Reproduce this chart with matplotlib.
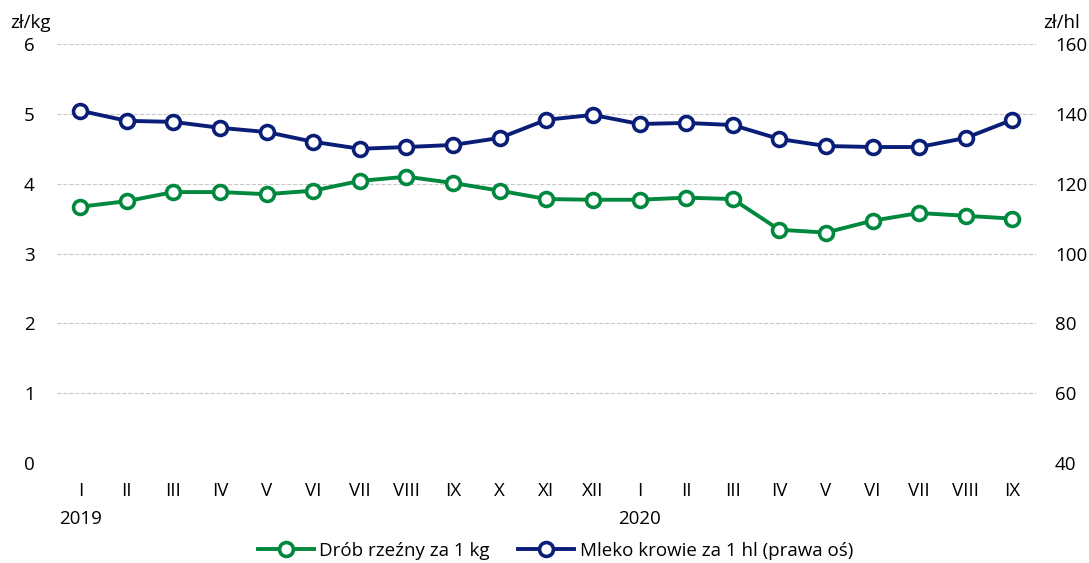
import matplotlib.pyplot as plt
import numpy as np

plt.rcParams['font.family'] = ['Open Sans', 'DejaVu Sans']

# dane
miesiace = ['I', 'II', 'III', 'IV', 'V', 'VI', 'VII', 'VIII', 'IX', 'X', 'XI', 'XII',
            'I', 'II', 'III', 'IV', 'V', 'VI', 'VII', 'VIII', 'IX']
drob = [3.67, 3.75, 3.88, 3.88, 3.85, 3.90, 4.04, 4.10, 4.01, 3.90, 3.78, 3.77,
        3.77, 3.80, 3.78, 3.34, 3.30, 3.47, 3.58, 3.54, 3.50]
mleko = [140.9, 138.0, 137.7, 136.0, 134.8, 132.0, 130.0, 130.5, 131.1, 133.1, 138.3, 139.7,
         137.1, 137.4, 136.8, 132.8, 130.8, 130.5, 130.5, 133.1, 138.3]

zielony = '#00883f'
granat = '#0a1e78'
fs = 13.5

x = np.arange(len(miesiace))

fig = plt.figure(figsize=(10.89, 5.63), dpi=100)
ax = fig.add_axes([0.0523, 0.1776, 0.8987, 0.7442])
ax2 = ax.twinx()

l1, = ax.plot(x, drob, color=zielony, lw=2.8, marker='o', ms=10, mfc='white',
              mec=zielony, mew=2.6, label='Drób rzeźny za 1 kg', zorder=3)
l2, = ax2.plot(x, mleko, color=granat, lw=2.8, marker='o', ms=10, mfc='white',
               mec=granat, mew=2.6, label='Mleko krowie za 1 hl (prawa oś)', zorder=3)

ax.set_xlim(-0.5, len(miesiace) - 0.5)
ax.set_ylim(0, 6)
ax2.set_ylim(40, 160)
ax.set_yticks(range(0, 7))
ax2.set_yticks(range(40, 161, 20))
ax.yaxis.grid(True, color='#c8c8c8', ls='--', lw=0.8)
ax.set_axisbelow(True)

for a in (ax, ax2):
    for s in a.spines.values():
        s.set_visible(False)
    a.tick_params(length=0, labelsize=fs)
ax.tick_params(axis='y', pad=16)
ax2.tick_params(axis='y', pad=14)

ax.set_xticks(x)
ax.set_xticklabels(miesiace)
ax.tick_params(axis='x', pad=14)

# lata pod osią
ax.text(0, -0.8, '2019', ha='center', va='center', fontsize=fs)
ax.text(12, -0.8, '2020', ha='center', va='center', fontsize=fs)

fig.text(0.009, 0.96, 'zł/kg', fontsize=fs, ha='left', va='center')
fig.text(0.992, 0.96, 'zł/hl', fontsize=fs, ha='right', va='center')

fig.legend(handles=[l1, l2], loc='center', bbox_to_anchor=(0.51, 0.022), ncol=2,
           frameon=False, fontsize=fs, handlelength=3, columnspacing=1.5, handletextpad=0.3)

fig.savefig('out.png', dpi=100)
